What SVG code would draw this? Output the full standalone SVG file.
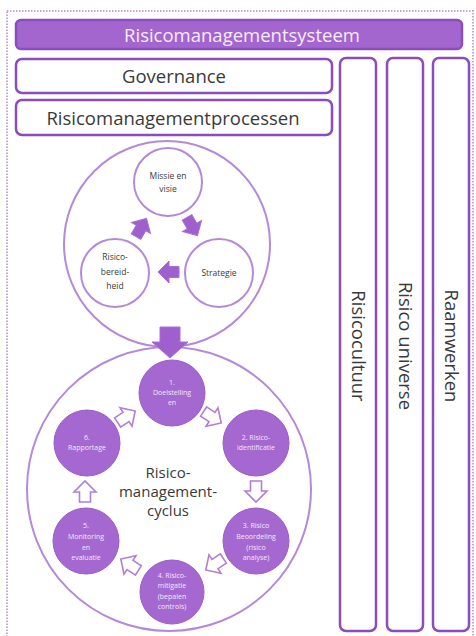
<svg xmlns="http://www.w3.org/2000/svg" width="476" height="636" viewBox="0 0 476 636">
<style>
.t{font-family:"Open Sans","Liberation Sans",sans-serif;text-anchor:middle;}
.hdr{fill:#a366cf;stroke:#8b4dbd;stroke-width:2.5;}
.box{fill:#fff;stroke:#8b4dbd;stroke-width:2.5;}
.lbl{fill:#3a3a3a;font-size:18.5px;}
.ring{fill:#fff;stroke:#b48ad8;stroke-width:2;}
.node{fill:#fff;stroke:#b48ad8;stroke-width:2;}
.cyc{fill:#a468d0;stroke:#9a5dc8;stroke-width:1;}
.sm{fill:#3a3a3a;font-size:8.5px;}
.wt{fill:#f3e9fa;font-size:7px;}
.fa{fill:#9f5fcc;stroke:#a871d3;stroke-width:1;}
.ha{fill:#fff;stroke:#b07fd7;stroke-width:1.6;}
</style>
<defs>
<polygon id="arr" points="-10,-5.5 0,-5.5 0,-11 11,0 0,11 0,5.5 -10,5.5"/>
</defs>
<rect x="7" y="11" width="466" height="630" fill="none" stroke="#c9a6e2" stroke-width="2" stroke-dasharray="1.5,1.5"/>
<g id="header">
<rect class="hdr" x="16" y="20" width="446" height="29" rx="5"/>
<text class="t" x="242" y="41.5" fill="#f5ecfb" font-size="18.5">Risicomanagementsysteem</text>
</g>
<g id="governance">
<rect class="box" x="16" y="59" width="316" height="34" rx="6"/>
<text class="t lbl" x="174" y="82.5">Governance</text>
</g>
<g id="processen">
<rect class="box" x="16" y="100" width="316" height="35" rx="6"/>
<text class="t lbl" x="173" y="124.5">Risicomanagementprocessen</text>
</g>
<g id="risicocultuur">
<rect class="box" x="340" y="58" width="36" height="573" rx="6"/>
<text class="t lbl" transform="translate(351.5,346) rotate(90)">Risicocultuur</text>
</g>
<g id="universe">
<rect class="box" x="387" y="58" width="36" height="573" rx="6"/>
<text class="t lbl" transform="translate(398.5,346) rotate(90)">Risico universe</text>
</g>
<g id="raamwerken">
<rect class="box" x="433" y="58" width="36" height="573" rx="6"/>
<text class="t lbl" transform="translate(444.5,346) rotate(90)">Raamwerken</text>
</g>
<g id="strategiekring">
<circle class="ring" cx="167" cy="244" r="103"/>
</g>
<g id="missie">
<circle class="node" cx="168" cy="182" r="34"/>
<text class="t sm" x="168" y="179">Missie en</text>
<text class="t sm" x="168" y="192">visie</text>
</g>
<g id="strategie">
<circle class="node" cx="219" cy="273" r="34"/>
<text class="t sm" x="219" y="276">Strategie</text>
</g>
<g id="bereidheid">
<circle class="node" cx="115" cy="273" r="34"/>
<text class="t sm" x="115" y="260">Risico-</text>
<text class="t sm" x="115" y="275">bereid-</text>
<text class="t sm" x="115" y="289">heid</text>
</g>
<g id="cycluskring">
<circle class="ring" cx="169" cy="489" r="142"/>
<text class="t" x="168" y="478" fill="#3a3a3a" font-size="15">Risico-</text>
<text class="t" x="168" y="497" fill="#3a3a3a" font-size="15">management-</text>
<text class="t" x="168" y="516" fill="#3a3a3a" font-size="15">cyclus</text>
</g>
<g id="c1">
<circle class="cyc" cx="172" cy="393" r="33"/>
<text class="t wt" x="172" y="385">1.</text>
<text class="t wt" x="172" y="395">Doelstelling</text>
<text class="t wt" x="172" y="405">en</text>
</g>
<g id="c2">
<circle class="cyc" cx="256" cy="443" r="33"/>
<text class="t wt" x="256" y="440">2. Risico-</text>
<text class="t wt" x="256" y="450">identificatie</text>
</g>
<g id="c3">
<circle class="cyc" cx="256" cy="541" r="33"/>
<text class="t wt" x="256" y="528">3. Risico</text>
<text class="t wt" x="256" y="539">Beoordeling</text>
<text class="t wt" x="256" y="550">(risico</text>
<text class="t wt" x="256" y="560">analyse)</text>
</g>
<g id="c4">
<circle class="cyc" cx="172" cy="592" r="32"/>
<text class="t wt" x="172" y="578">4. Risico-</text>
<text class="t wt" x="172" y="588">mitigatie</text>
<text class="t wt" x="172" y="599">(bepalen</text>
<text class="t wt" x="172" y="609">controls)</text>
</g>
<g id="c5">
<circle class="cyc" cx="86" cy="541" r="33"/>
<text class="t wt" x="86" y="528">5.</text>
<text class="t wt" x="86" y="539">Monitoring</text>
<text class="t wt" x="86" y="550">en</text>
<text class="t wt" x="86" y="560">evaluatie</text>
</g>
<g id="c6">
<circle class="cyc" cx="87" cy="443" r="33"/>
<text class="t wt" x="87" y="440">6.</text>
<text class="t wt" x="87" y="450">Rapportage</text>
</g>
<g id="connectors">
<use href="#arr" class="fa" transform="translate(141,228) rotate(-60)"/>
<use href="#arr" class="fa" transform="translate(192,226) rotate(60)"/>
<use href="#arr" class="fa" transform="translate(169,272) rotate(180)"/>
<polygon class="fa" points="160,327 180,327 180,342 188,342 170,358 152,342 160,342"/>
<use href="#arr" class="ha" transform="translate(212,417) rotate(33)"/>
<use href="#arr" class="ha" transform="translate(256,491) rotate(90)"/>
<use href="#arr" class="ha" transform="translate(215,564) rotate(147)"/>
<use href="#arr" class="ha" transform="translate(130,565) rotate(213)"/>
<use href="#arr" class="ha" transform="translate(85,492) rotate(-90)"/>
<use href="#arr" class="ha" transform="translate(126,417) rotate(-33)"/>
</g>
</svg>
